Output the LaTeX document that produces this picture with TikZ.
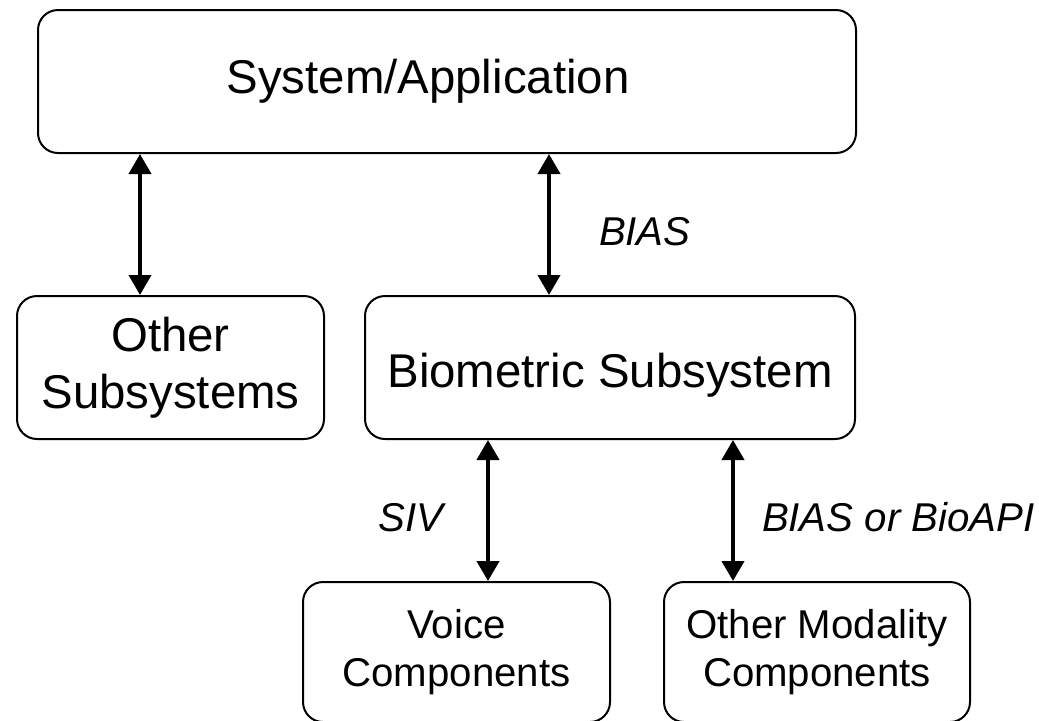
\documentclass[tikz,border=0pt]{standalone}
\usepackage{fontspec}
\setmainfont{Liberation Sans}
\usetikzlibrary{arrows.meta, positioning}

\tikzset{
  block/.style={draw, rounded corners=10pt, line width=1pt, inner sep=0pt, align=center,
    font=\fontsize{23.7}{28.5}\selectfont},
  smallblock/.style={block, font=\fontsize{20.1}{24}\selectfont},
  biarrow/.style={{Triangle[length=10pt,width=11pt]}-{Triangle[length=10pt,width=11pt]}, line width=2pt},
  iface/.style={inner sep=0pt, font=\fontsize{20.1}{24}\selectfont\itshape}
}

\begin{document}
\begin{tikzpicture}[x=0.5pt, y=-0.5pt]
				\useasboundingbox (0,0) rectangle (1039,720);
				% Boxes:
				\node[block, minimum width=409pt, minimum height=71.5pt](sys) at (447, 81.5){\hspace*{-19pt}System/Application};
				\node[block, minimum width=153.5pt, minimum height=71.5pt](other) at (170.5, 367.5){Other\\Subsystems};
				\node[block, minimum width=245pt, minimum height=71.5pt, text height=24.5pt, text depth=5pt](bio) at (610, 367.5){Biometric Subsystem};
				\node[smallblock, minimum width=153.5pt, minimum height=70pt](voice) at (456.5, 652){Voice\\Components};
				\node[smallblock, minimum width=153pt, minimum height=70pt](modality) at (817, 652){Other Modality\\Components};
				% Arrow ends:
				\coordinate (a1) at ([xshift=-15.25pt]other.north);
				\coordinate (a2) at ([xshift=-30.5pt]bio.north);
				\coordinate (a3) at ([xshift=15.75pt]voice.north);
				\coordinate (a4) at ([xshift=-42pt]modality.north);
				% Interfaces:
				\draw[biarrow] (a1 |- sys.south) -- (a1);
				\draw[biarrow] (a2 |- sys.south) -- node[iface, anchor=west, xshift=24pt, pos=0.55]{BIAS} (a2);
				\draw[biarrow] (a3 |- bio.south) -- node[iface, anchor=east, xshift=-21.5pt, pos=0.55]{SIV} (a3);
				\draw[biarrow] (a4 |- bio.south) -- node[iface, anchor=west, xshift=13.5pt, pos=0.55]{BIAS or BioAPI} (a4);
			\end{tikzpicture}
\end{document}
